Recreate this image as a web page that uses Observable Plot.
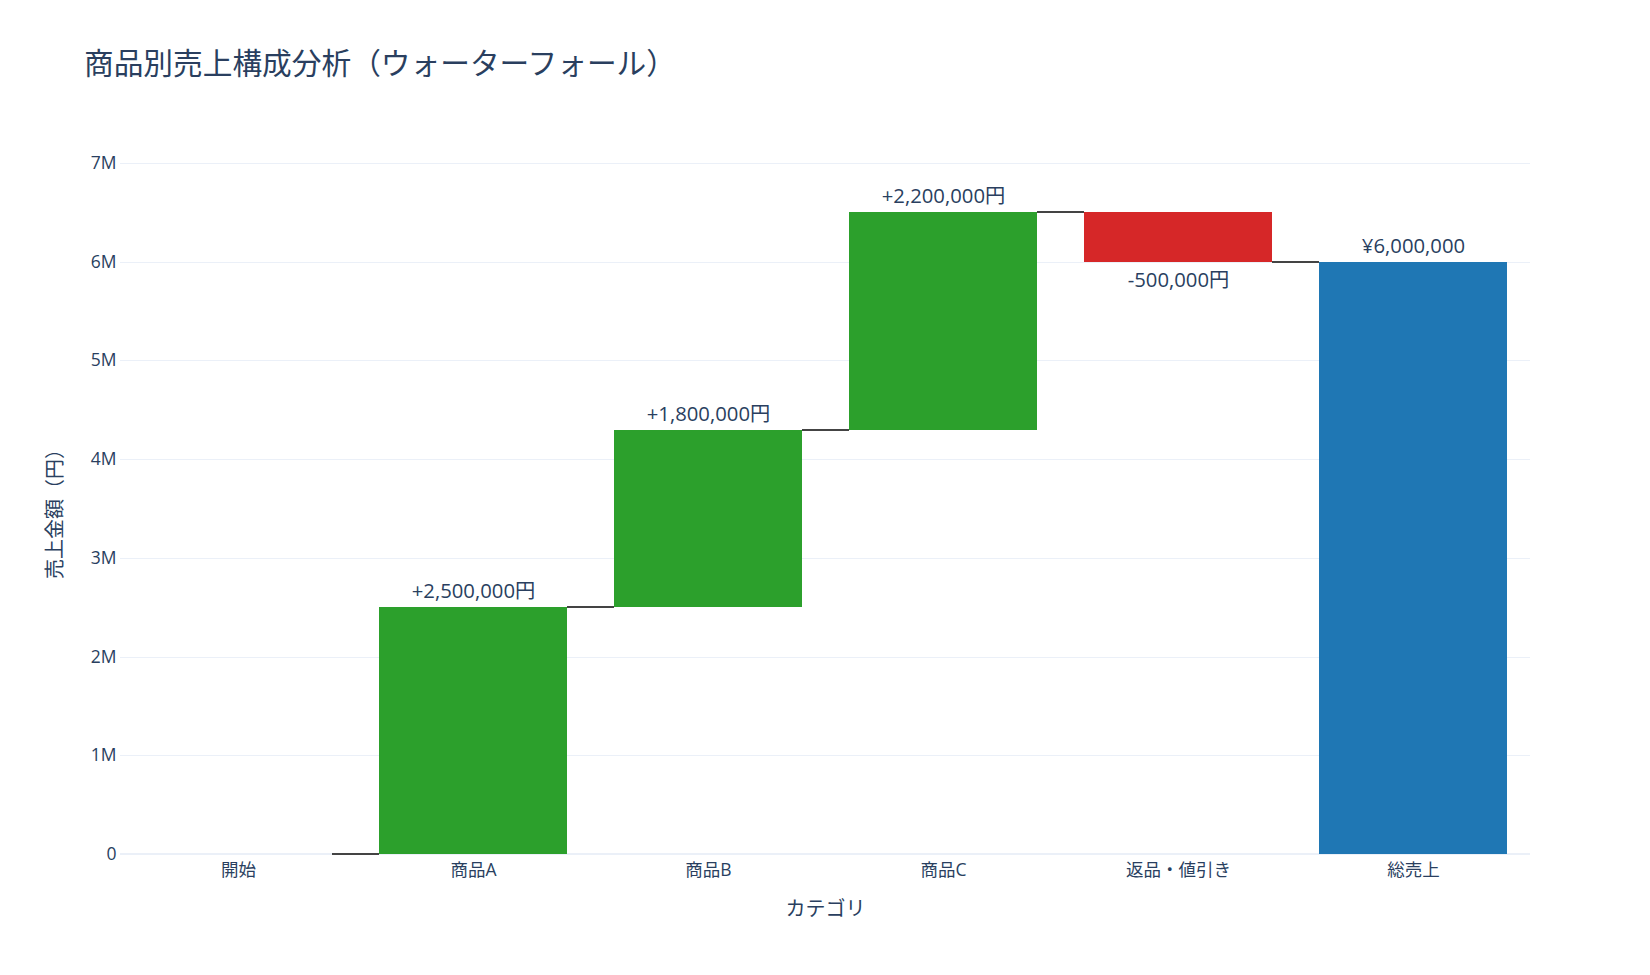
<!DOCTYPE html>
<html>
<head>
<meta charset="utf-8">
<script src="https://cdn.jsdelivr.net/npm/d3@7"></script>
<script src="https://cdn.jsdelivr.net/npm/@observablehq/plot@0.6"></script>
<style>
  html, body { margin: 0; padding: 0; background: #fff; }
  body { font-family: "Open Sans", "Noto Sans CJK JP", sans-serif; width: 1650px; height: 975px; overflow: hidden; }
  #title { position: relative; height: 100px; }
  #title span { position: absolute; left: 84px; top: 48px; font-size: 29.7px; line-height: 1; color: #2a3f5f; white-space: nowrap; }
  #chart svg { display: block; }
</style>
</head>
<body>
<div id="title"><span>商品別売上構成分析（ウォーターフォール）</span></div>
<div id="chart"></div>
<script>
// ---- data ----
const categories = ["開始", "商品A", "商品B", "商品C", "返品・値引き", "総売上"];
const values = [0, 2500000, 1800000, 2200000, -500000, 6000000];
const measures = ["absolute", "relative", "relative", "relative", "relative", "total"];
const labels = ["", "+2,500,000円", "+1,800,000円", "+2,200,000円", "-500,000円", "¥6,000,000"];
const yTicks = [0, 1000000, 2000000, 3000000, 4000000, 5000000, 6000000, 7000000];
const yTickLabels = ["0", "1M", "2M", "3M", "4M", "5M", "6M", "7M"];
const xTitle = "カテゴリ";
const yTitle = "売上金額（円）";

// ---- layout ----
const W = 1650, H = 834, ML = 120, MR = 120, MT = 63, MB = 80;
const PAD_INNER = 0.2, PAD_OUTER = 0.1;
const bandW = (1 - PAD_INNER) * (W - ML - MR) / categories.length;
const textColor = "#2a3f5f";
const fontFam = '"Open Sans", "Noto Sans CJK JP", sans-serif';

// ---- build waterfall table ----
let cum = 0;
const rows = categories.map((c, i) => {
  let y1, y2;
  if (measures[i] === "absolute") { y1 = 0; y2 = values[i]; cum = values[i]; }
  else if (measures[i] === "total") { y1 = 0; y2 = cum; }
  else { y1 = cum; y2 = cum + values[i]; cum = y2; }
  const color = measures[i] === "relative" ? (values[i] >= 0 ? "#2ca02c" : "#d62728") : "#1f77b4";
  return { cat: c, y1, y2, end: cum, measure: measures[i], label: labels[i], color };
});
const connectors = rows.slice(0, -1).map((r, i) => ({ x1: r.cat, x2: rows[i + 1].cat, y: r.end }));
const upLabels = rows.filter(r => r.label && r.y2 >= r.y1);
const downLabels = rows.filter(r => r.label && r.y2 < r.y1);

const chart = Plot.plot({
  width: W, height: H,
  marginLeft: ML, marginRight: MR, marginTop: MT, marginBottom: MB,
  style: { fontFamily: fontFam, fontSize: "17px", color: textColor, background: "#fff", overflow: "visible" },
  x: { type: "band", domain: categories, paddingInner: PAD_INNER, paddingOuter: PAD_OUTER, align: 0.5 },
  y: { domain: [0, 7000000], round: true },
  color: { type: "identity" },
  marks: [
    Plot.ruleY(yTicks.filter(d => d !== 0), { stroke: "#ebf0f8", strokeWidth: 1 }),
    Plot.ruleY([0], { stroke: "#ebf0f8", strokeWidth: 2, dy: -0.5 }),
    Plot.ruleY(connectors, { x1: "x1", x2: "x2", y: "y", stroke: "#444", strokeWidth: 2, dy: -0.5, insetLeft: bandW, insetRight: bandW }),
    Plot.barY(rows, { x: "cat", y1: "y1", y2: "y2", fill: "color" }),
    Plot.text(upLabels, { x: "cat", y: "y2", text: "label", dy: -16, fontSize: 20.3, fill: textColor }),
    Plot.text(downLabels, { x: "cat", y: "y2", text: "label", dy: 18, fontSize: 20.3, fill: textColor }),
    Plot.axisY(yTicks, { tickSize: 0, tickPadding: 4, tickFormat: d => yTickLabels[yTicks.indexOf(d)], label: null, fill: textColor, fontSize: 17.5 }),
    Plot.axisX({ tickSize: 0, tickPadding: 9, label: null, fill: textColor, fontSize: 17.5 }),
    Plot.text([xTitle], { text: d => d, frameAnchor: "bottom", dy: 61, fontSize: 20, fill: textColor }),
    Plot.text([yTitle], { text: d => d, frameAnchor: "left", textAnchor: "middle", dx: -65, rotate: -90, fontSize: 20, fill: textColor })
  ]
});
document.getElementById("chart").appendChild(chart);
</script>
</body>
</html>
